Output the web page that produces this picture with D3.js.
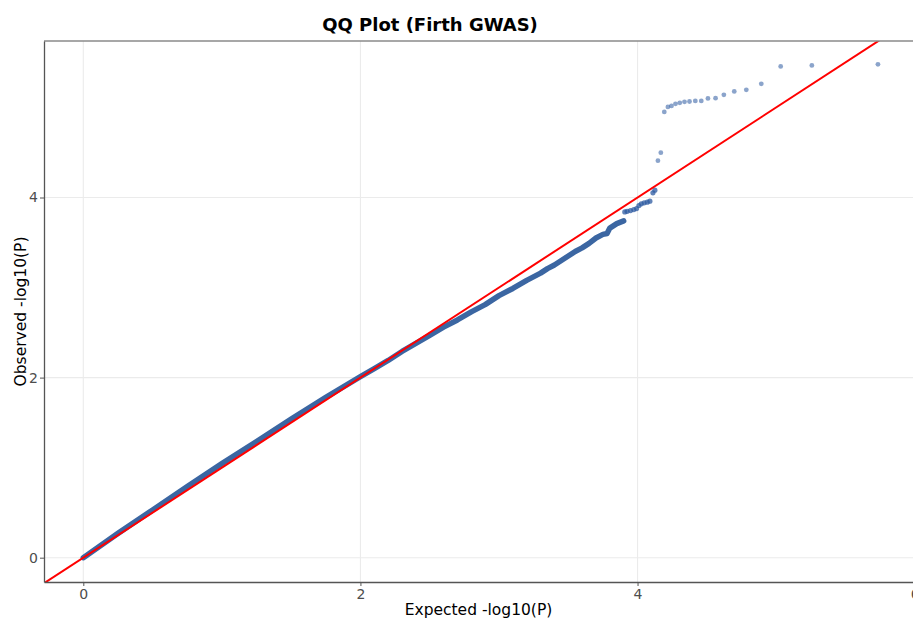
<!DOCTYPE html>
<html>
<head>
<meta charset="utf-8">
<script src="https://cdn.jsdelivr.net/npm/d3@7"></script>
<style>
  body { margin: 0; background: #fff; }
  svg { display: block; font-family: "DejaVu Sans", sans-serif; }
</style>
</head>
<body>
<div id="graph"></div>
<script>
// dense part of the QQ curve (expected, observed)
const bandExpected = [0.0, 0.25, 0.5, 0.75, 1.0, 1.25, 1.5, 1.75, 2.0, 2.1, 2.2, 2.3, 2.4, 2.5, 2.6, 2.7, 2.8, 2.9, 2.95, 3.0, 3.1, 3.2, 3.3, 3.35, 3.4, 3.45, 3.5, 3.55, 3.6, 3.65, 3.7, 3.75, 3.78, 3.8, 3.85, 3.9]
const bandObserved = [0.0, 0.27, 0.53, 0.79, 1.045, 1.29, 1.54, 1.78, 2.01, 2.1, 2.19, 2.29, 2.38, 2.47, 2.56, 2.64, 2.73, 2.81, 2.86, 2.91, 2.99, 3.08, 3.16, 3.21, 3.25, 3.3, 3.35, 3.4, 3.44, 3.49, 3.55, 3.59, 3.6, 3.66, 3.71, 3.74]

// upper tail, individual points
const tailExpected = [3.908, 3.925, 3.949, 3.973, 3.993, 4.010, 4.027, 4.048, 4.070, 4.089, 4.111, 4.125, 4.147, 4.168,
  4.193, 4.219, 4.245, 4.274, 4.305, 4.339, 4.375, 4.417, 4.460, 4.508, 4.563, 4.623, 4.698, 4.785, 4.893, 5.033, 5.258, 5.735]
const tailObserved = [3.840, 3.847, 3.855, 3.866, 3.877, 3.911, 3.930, 3.941, 3.948, 3.959, 4.052, 4.081, 4.409, 4.498,
  4.950, 5.006, 5.017, 5.040, 5.051, 5.062, 5.066, 5.073, 5.073, 5.100, 5.103, 5.140, 5.178, 5.196, 5.262, 5.456, 5.467, 5.479]

const xTicks = [0, 2, 4, 6]
const yTicks = [0, 2, 4]

const width = 913, height = 619
const margin = {top: 41, right: 0, bottom: 37, left: 44}

const x = d3.scaleLinear().domain([-0.2837, 5.988]).range([margin.left, width - margin.right])
const y = d3.scaleLinear().domain([-0.27, 5.738]).range([height - margin.bottom, margin.top])

const svg = d3.select('#graph').append('svg').attr('width', width).attr('height', height)

svg.append('defs').append('clipPath').attr('id', 'panel')
  .append('rect')
  .attr('x', margin.left).attr('y', margin.top)
  .attr('width', width - margin.left - margin.right)
  .attr('height', height - margin.top - margin.bottom)

// grid
const grid = svg.append('g')
grid.selectAll('.gx').data(xTicks.filter(d => x(d) < width)).join('line')
  .attr('x1', d => x(d)).attr('x2', d => x(d))
  .attr('y1', margin.top).attr('y2', height - margin.bottom)
  .attr('stroke', '#ebebeb').attr('stroke-width', 1.1)
grid.selectAll('.gy').data(yTicks).join('line')
  .attr('y1', d => y(d)).attr('y2', d => y(d))
  .attr('x1', margin.left).attr('x2', width)
  .attr('stroke', '#ebebeb').attr('stroke-width', 1.1)

const plot = svg.append('g').attr('clip-path', 'url(#panel)')

// dense band
const band = bandExpected.map((d, i) => [d, bandObserved[i]])
plot.append('path')
  .datum(band)
  .attr('fill', 'none')
  .attr('stroke', '#3b66a2')
  .attr('stroke-width', 5.5)
  .attr('stroke-linecap', 'round')
  .attr('stroke-linejoin', 'round')
  .attr('d', d3.line().x(d => x(d[0])).y(d => y(d[1])))

// tail points
const tail = tailExpected.map((d, i) => [d, tailObserved[i]])
plot.append('g')
  .selectAll('circle')
  .data(tail)
  .join('circle')
    .attr('cx', d => x(d[0]))
    .attr('cy', d => y(d[1]))
    .attr('r', d => d[0] < 4.14 ? 2.6 : 2.4)
    .attr('fill', '#2c5aa0')
    .attr('fill-opacity', d => d[0] < 4.14 ? 0.75 : 0.55)

// reference line y = x
const lim = x.domain()
plot.append('line')
  .attr('x1', x(lim[0])).attr('y1', y(lim[0]))
  .attr('x2', x(lim[1])).attr('y2', y(lim[1]))
  .attr('stroke', '#ff0000').attr('stroke-width', 2)

// panel lines
svg.append('line')
  .attr('x1', margin.left).attr('x2', width)
  .attr('y1', margin.top).attr('y2', margin.top)
  .attr('stroke', '#8a8a8a').attr('stroke-width', 1.5)

const fmt = d3.format('d')
const xAxis = svg.append('g')
  .attr('transform', `translate(0,${height - margin.bottom})`)
  .call(d3.axisBottom(x).tickValues(xTicks).tickFormat(fmt).tickSize(4).tickSizeOuter(0).tickPadding(3))
const yAxis = svg.append('g')
  .attr('transform', `translate(${margin.left},0)`)
  .call(d3.axisLeft(y).tickValues(yTicks).tickFormat(fmt).tickSize(4).tickSizeOuter(0).tickPadding(2))

;[xAxis, yAxis].forEach(g => {
  g.select('.domain').attr('stroke', '#555').attr('stroke-width', 1.3)
  g.selectAll('.tick line').attr('stroke', '#555')
  g.selectAll('.tick text').attr('fill', '#4d4d4d').attr('font-size', 14)
    .attr('font-family', '"DejaVu Sans", sans-serif')
})

// titles
svg.append('text')
  .attr('x', 430).attr('y', 31)
  .attr('text-anchor', 'middle')
  .attr('font-size', 18).attr('font-weight', 'bold')
  .text('QQ Plot (Firth GWAS)')

svg.append('text')
  .attr('x', (margin.left + width) / 2).attr('y', 615)
  .attr('text-anchor', 'middle')
  .attr('font-size', 15.5)
  .text('Expected -log10(P)')

svg.append('text')
  .attr('transform', `translate(26,${(margin.top + height - margin.bottom) / 2}) rotate(-90)`)
  .attr('text-anchor', 'middle')
  .attr('font-size', 15.5)
  .text('Observed -log10(P)')
</script>
</body>
</html>
